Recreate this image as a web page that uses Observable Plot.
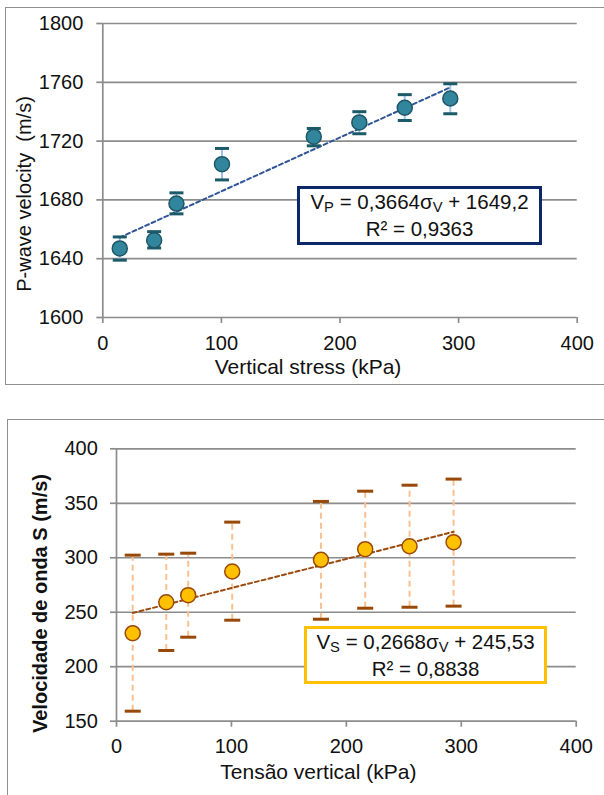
<!DOCTYPE html>
<html>
<head>
<meta charset="utf-8">
<script src="https://cdn.jsdelivr.net/npm/d3@7"></script>
<script src="https://cdn.jsdelivr.net/npm/@observablehq/plot@0.6"></script>
<style>
  html, body { margin: 0; padding: 0; background: #fff; }
  body { width: 604px; height: 795px; position: relative; overflow: hidden; font-family: "Liberation Sans", Arial, sans-serif; }
  .abs { position: absolute; }
  .frame { position: absolute; box-sizing: border-box; border: 1.4px solid #8f8f8f; pointer-events: none; }
  .eq { position: absolute; box-sizing: border-box; display: flex; flex-direction: column; justify-content: center; align-items: center; font-size: 20.5px; line-height: 26px; color: #111; background: #fff; }
  .eq .ln { white-space: nowrap; }
  .eq .ln + .ln { margin-top: 1px; }
  .eq sub { font-size: 0.72em; vertical-align: -0.18em; line-height: 0; }
</style>
</head>
<body>
<div id="c1" class="abs" style="left:0;top:0"></div>
<div id="c2" class="abs" style="left:0;top:395px"></div>
<div class="frame" style="left:5px;top:7px;width:640px;height:378px"></div>
<div class="frame" style="left:7px;top:419px;width:640px;height:420px"></div>
<div class="eq" style="left:297px;top:186px;width:245px;height:59px;border:3px solid #0c2868;">
  <div class="ln">V<sub>P</sub> = 0,3664σ<sub>V</sub> + 1649,2</div>
  <div class="ln">R² = 0,9363</div>
</div>
<div class="eq" style="left:304px;top:626px;width:243px;height:58px;border:3px solid #FFC000;">
  <div class="ln">V<sub>S</sub> = 0,2668σ<sub>V</sub> + 245,53</div>
  <div class="ln">R² = 0,8838</div>
</div>
<script>
// ---------- data: top chart (P-wave) ----------
const pStress = [14.3, 43.3, 62.1, 100.5, 177.9, 216.3, 254.6, 293];
const pVel    = [1647, 1652.5, 1677.5, 1704.3, 1723, 1732.7, 1742.7, 1749];
const pErrHi  = [1654.8, 1658.4, 1684.8, 1715, 1728.6, 1740, 1751.6, 1759];
const pErrLo  = [1639, 1647.3, 1670.5, 1693.6, 1716.8, 1725, 1734, 1738.6];
const pTrend  = [0.3664, 1649.2]; // slope, intercept
const pYTicks = [1600, 1640, 1680, 1720, 1760, 1800];

// ---------- data: bottom chart (S-wave) ----------
const sStress = [14.1, 43.3, 62.4, 100.7, 177.9, 216.4, 255, 293.3];
const sVel    = [230.8, 259.2, 265.7, 287.4, 298.1, 307.9, 310.6, 314.3];
const sErrHi  = [302.4, 303.3, 304.2, 332.7, 351.7, 361.1, 366.6, 372.2];
const sErrLo  = [159.2, 214.9, 227.1, 242.7, 243.6, 253.7, 254.6, 255.6];
const sTrend  = [0.2668, 245.53];
const sYTicks = [150, 200, 250, 300, 350, 400];

const xTicks = [0, 100, 200, 300, 400];

const gridColor = "#8c8c8c";
const cap = { draw(ctx, size) { const r = Math.sqrt(size / Math.PI); ctx.moveTo(-r, 0); ctx.lineTo(r, 0); } };

function rows(xs, ys, hi, lo) { return xs.map((x, i) => ({x, y: ys[i], hi: hi[i], lo: lo[i]})); }
function trendPts(xs, t) { const a = xs[0], b = xs[xs.length - 1]; return [{x: a, y: t[0]*a + t[1]}, {x: b, y: t[0]*b + t[1]}]; }

function chart(o) {
  const data = rows(o.xs, o.ys, o.hi, o.lo);
  return Plot.plot({
    width: 604, height: o.height,
    marginLeft: o.ml, marginRight: o.mr, marginTop: o.mt, marginBottom: o.mb,
    style: {background: "transparent", overflow: "visible", fontFamily: "Liberation Sans, Arial, sans-serif", color: "#111"},
    x: {domain: [0, 400]},
    y: {domain: o.ydomain},
    marks: [
      Plot.ruleY(o.yticks, {stroke: gridColor, strokeWidth: 1.7}),
      Plot.ruleX([0], {stroke: gridColor, strokeWidth: 1.7}),
      Plot.axisY({ticks: o.yticks, tickFormat: d => String(d), tickSize: 6, tickPadding: o.typad, fontSize: 20, stroke: gridColor, strokeWidth: 1.7, label: null}),
      Plot.axisX({ticks: xTicks, tickFormat: d => String(d), tickSize: 6, tickPadding: 12, fontSize: 20, stroke: gridColor, strokeWidth: 1.7, label: null}),
      Plot.ruleX(data, {x: "x", y1: "lo", y2: "hi", stroke: o.errColor, strokeWidth: 2, strokeDasharray: o.errDash}),
      Plot.line(trendPts(o.xs, o.trend), {x: "x", y: "y", stroke: o.trendColor, strokeWidth: 2, strokeDasharray: "4,3"}),
      Plot.dot(data, {x: "x", y: "hi", symbol: cap, r: o.capR, stroke: o.capColor, strokeWidth: 3}),
      Plot.dot(data, {x: "x", y: "lo", symbol: cap, r: o.capR, stroke: o.capColor, strokeWidth: 3}),
      Plot.dot(data, {x: "x", y: "y", r: 7.5, fill: o.fill, stroke: o.dotStroke, strokeWidth: 1.5}),
      Plot.text([o.xtitle], {text: d => d, frameAnchor: "bottom", textAnchor: "middle", dx: o.xtdx, dy: o.xtdy, fontSize: 21, lineAnchor: "middle", fill: "#111"}),
      Plot.text([o.ytitle], {text: d => d, frameAnchor: "left", textAnchor: "middle", rotate: -90, dx: o.ytdx, dy: o.ytdy, fontSize: o.ysize, lineAnchor: "middle", fill: "#111", fontWeight: o.ybold ? "bold" : "normal"})
    ]
  });
}

document.getElementById("c1").append(chart({
  xs: pStress, ys: pVel, hi: pErrHi, lo: pErrLo, trend: pTrend, yticks: pYTicks, ydomain: [1600, 1800],
  height: 395, ml: 102.3, mr: 27.3, mt: 23, mb: 78, typad: 13.5,
  errColor: "#9dc3e6", errDash: null, trendColor: "#2f5597", capColor: "#1b5a68", capR: 7,
  fill: "#31859c", dotStroke: "#1f5766",
  xtitle: "Vertical stress (kPa)", xtdx: -32, xtdy: 50,
  ytitle: "P-wave velocity  (m/s)", ytdx: -78.6, ytdy: 23.5, ybold: false, ysize: 20
}));

document.getElementById("c2").append(chart({
  xs: sStress, ys: sVel, hi: sErrHi, lo: sErrLo, trend: sTrend, yticks: sYTicks, ydomain: [150, 400],
  height: 400, ml: 116, mr: 28.3, mt: 53.3, mb: 74.3, typad: 12.7,
  errColor: "#fac090", errDash: "6,4", trendColor: "#9c4a0e", capColor: "#984807", capR: 8,
  fill: "#ffc000", dotStroke: "#984807",
  xtitle: "Tensão vertical (kPa)", xtdx: -28, xtdy: 51,
  ytitle: "Velocidade de onda S (m/s)", ytdx: -76, ytdy: 18.5, ybold: true, ysize: 20
}));
</script>
</body>
</html>
